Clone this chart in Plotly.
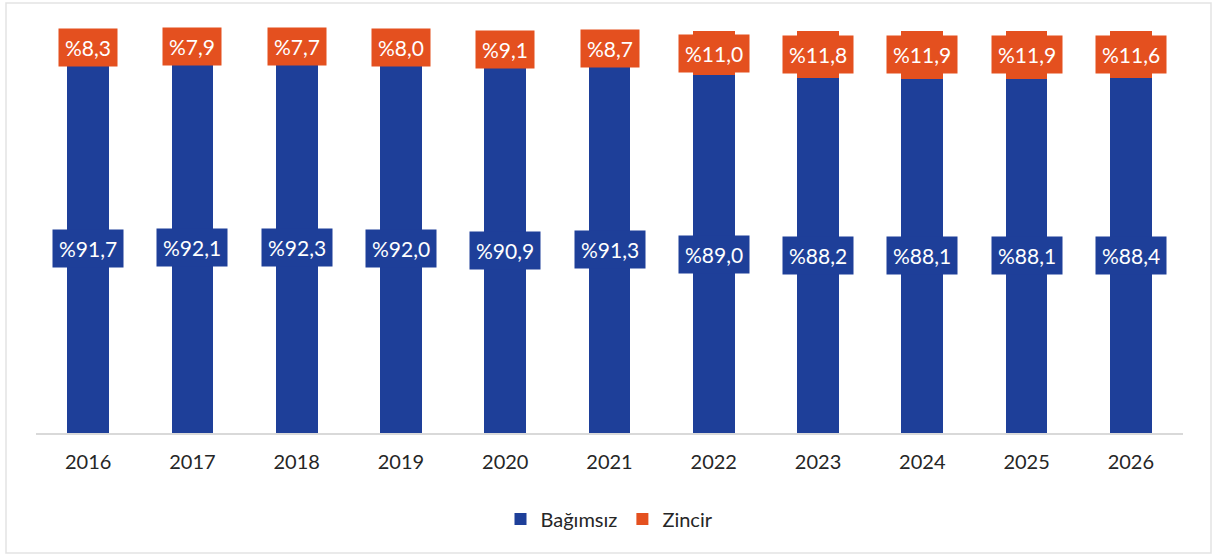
import plotly.graph_objects as go

years = ["2016", "2017", "2018", "2019", "2020", "2021", "2022", "2023", "2024", "2025", "2026"]
bagimsiz = [91.7, 92.1, 92.3, 92.0, 90.9, 91.3, 89.0, 88.2, 88.1, 88.1, 88.4]
zincir = [8.3, 7.9, 7.7, 8.0, 9.1, 8.7, 11.0, 11.8, 11.9, 11.9, 11.6]

BLUE = "#1E3F99"
ORANGE = "#E4501F"
FONT = "Lato, Carlito, Calibri, sans-serif"

W, H = 1216, 558
ML, MR, MT, MB = 36, 33, 31, 125
PW, PH = W - ML - MR, H - MT - MB


def fmt(v):
    return "%" + f"{v:.1f}".replace(".", ",")


def px_x(p):
    return (p - ML) / PW


def px_y(p):
    return (H - MB - p) / PH


fig = go.Figure()
fig.add_trace(go.Bar(x=years, y=bagimsiz, name="Bağımsız", marker=dict(color=BLUE, line=dict(width=0))))
fig.add_trace(go.Bar(x=years, y=zincir, name="Zincir", marker=dict(color=ORANGE, line=dict(width=0))))

annotations = []
for i, (b, z) in enumerate(zip(bagimsiz, zincir)):
    annotations.append(dict(x=i, y=b / 2, text=fmt(b), showarrow=False, xref="x", yref="y",
                            bgcolor=BLUE, borderpad=6, font=dict(color="white", size=21, family=FONT)))
    annotations.append(dict(x=i, y=b + z / 2, text=fmt(z), showarrow=False, xref="x", yref="y",
                            bgcolor=ORANGE, borderpad=6, font=dict(color="white", size=21, family=FONT)))

fig.update_layout(
    width=W, height=H,
    barmode="stack", bargap=0.6,
    margin=dict(l=ML, r=MR, t=MT, b=MB),
    paper_bgcolor="white", plot_bgcolor="white",
    font=dict(family=FONT, color="#262626", size=20),
    showlegend=True,
    legend=dict(orientation="h", x=0.5, xanchor="center", y=px_y(519), yanchor="middle",
                font=dict(size=20, color="#262626"), itemwidth=30, traceorder="normal"),
    annotations=annotations,
    xaxis=dict(type="category", range=[-0.5, len(years) - 0.5], showline=True, linecolor="#D9D9D9",
               linewidth=1.5, ticks="", ticklabelstandoff=10,
               tickfont=dict(size=20, color="#262626"), showgrid=False),
    yaxis=dict(range=[0, 100], visible=False, showgrid=False),
    shapes=[dict(type="rect", xref="paper", yref="paper",
                 x0=px_x(6), x1=px_x(1211), y0=px_y(553), y1=px_y(3),
                 line=dict(color="#E3E3E3", width=1.5), fillcolor="rgba(0,0,0,0)", layer="below")],
)

fig.write_html("out.html", config={"displayModeBar": False},
               post_script="document.body.style.margin='0';document.body.style.overflow='hidden';")
